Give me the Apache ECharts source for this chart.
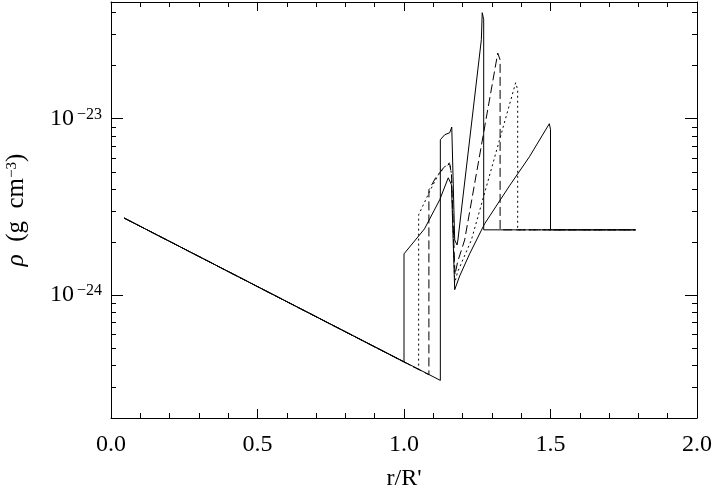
<!DOCTYPE html>
<html>
<head>
<meta charset="utf-8">
<script src="https://cdn.jsdelivr.net/npm/echarts@6/dist/echarts.min.js"></script>
<style>
html, body { margin: 0; padding: 0; background: #fff; }
#chart { width: 714px; height: 486px; }
</style>
</head>
<body>
<div id="chart"></div>
<script>
// density profiles rho(r)
// solid, inner jump at r = 1.00
const rA = [0.045, 1.000, 1.000, 1.070, 1.122, 1.151, 1.157, 1.162, 1.173, 1.190, 1.224, 1.275, 1.360, 1.428, 1.496, 1.500, 1.500, 1.790];
const rhoA = [2.73e-24, 4.16e-25, 1.71e-24, 2.37e-24, 3.47e-24, 4.62e-24, 4.71e-24, 4.22e-24, 1.07e-24, 1.28e-24, 1.71e-24, 2.53e-24, 4.16e-24, 6.08e-24, 9.37e-24, 8.7e-24, 2.34e-24, 2.34e-24];
// dotted, inner jump at r = 1.05
const rB = [0.045, 1.050, 1.050, 1.087, 1.115, 1.142, 1.156, 1.162, 1.173, 1.183, 1.230, 1.381, 1.388, 1.388, 1.790];
const rhoB = [2.73e-24, 3.77e-25, 2.85e-24, 3.85e-24, 4.74e-24, 5.41e-24, 5.62e-24, 4.81e-24, 1.17e-24, 1.35e-24, 2.05e-24, 1.60e-23, 1.46e-23, 2.34e-24, 2.34e-24];
// dashed, inner jump at r = 1.085
const rC = [0.045, 1.085, 1.085, 1.108, 1.135, 1.156, 1.162, 1.174, 1.183, 1.207, 1.320, 1.328, 1.328, 1.790];
const rhoC = [2.73e-24, 3.52e-25, 3.95e-24, 4.62e-24, 5.27e-24, 5.55e-24, 4.81e-24, 1.30e-24, 1.54e-24, 2.05e-24, 2.36e-23, 2.16e-23, 2.34e-24, 2.34e-24];
// solid, inner jump at r = 1.124
const rD = [0.045, 1.124, 1.124, 1.139, 1.156, 1.163, 1.167, 1.173, 1.181, 1.184, 1.264, 1.267, 1.272, 1.272, 1.790];
const rhoD = [2.73e-24, 3.27e-25, 7.60e-24, 8.11e-24, 8.33e-24, 8.97e-24, 8.89e-24, 2.05e-24, 1.92e-24, 2.05e-24, 2.81e-23, 4.00e-23, 3.65e-23, 2.34e-24, 2.34e-24];

// axis ranges and tick values
const xMajor = [0, 0.5, 1, 1.5, 2];
const xMinor = [0.1, 0.2, 0.3, 0.4, 0.6, 0.7, 0.8, 0.9, 1.1, 1.2, 1.3, 1.4, 1.6, 1.7, 1.8, 1.9];
const yMin = 2e-25;
const yMax = 4.6e-23;
const yMajor = [1e-24, 1e-23];
const yMinor = [2e-25, 3e-25, 4e-25, 5e-25, 6e-25, 7e-25, 8e-25, 9e-25,
  2e-24, 3e-24, 4e-24, 5e-24, 6e-24, 7e-24, 8e-24, 9e-24, 2e-23, 3e-23, 4e-23];

const font = "Liberation Serif";
const black = "#000";

function pairs(xs, ys) {
  return xs.map((x, i) => [x, ys[i]]);
}

// grid 0 is the plot; grid 1 is a strip whose bottom edge is the top frame,
// its ticks point down into the plot (top-positioned axes drew no ticks)
function xAxis(grid, major, labels) {
  return {
    type: "value",
    gridIndex: grid,
    position: "bottom",
    min: 0,
    max: 2,
    interval: 0.5,
    axisLine: { show: major, onZero: false, lineStyle: { color: black, width: 1 } },
    axisTick: {
      show: true,
      inside: grid === 0,
      length: major ? 9 : 5,
      customValues: major ? xMajor : xMinor,
      lineStyle: { color: black },
    },
    splitLine: { show: false },
    axisLabel: {
      show: labels,
      customValues: xMajor,
      margin: 15,
      color: black,
      fontFamily: font,
      fontSize: 24,
      formatter: (v) => v.toFixed(1),
    },
    name: labels ? "r/R'" : "",
    nameLocation: "middle",
    nameGap: 49,
    nameTextStyle: { color: black, fontFamily: font, fontSize: 24 },
  };
}

// tick-only axes: same range as the log axis, counted in decades
function tickAxis(position, major) {
  let left = position === "left";
  return {
    type: "value",
    position: position,
    min: Math.log10(yMin),
    max: Math.log10(yMax),
    axisLine: { show: false, onZero: false },
    axisTick: {
      show: true,
      inside: true,
      length: major ? 12 : 5,
      customValues: (major ? yMajor : yMinor).map((v) => Math.log10(v)),
      lineStyle: { color: black },
    },
    splitLine: { show: false },
    axisLabel: {
      show: major && left,
      customValues: yMajor.map((v) => Math.log10(v)),
      margin: 9,
      color: black,
      fontFamily: font,
      fontSize: 24,
      formatter: (v) => "{b|10}{s|\u2212" + -Math.round(v) + "}",
      rich: {
        b: { fontFamily: font, fontSize: 24, color: black },
        s: { fontFamily: font, fontSize: 16, color: black, padding: [0, 0, 8, 3] },
      },
    },
  };
}

function line(xs, ys, type) {
  return {
    type: "line",
    data: pairs(xs, ys),
    xAxisIndex: 0,
    yAxisIndex: 0,
    symbol: "none",
    animation: false,
    lineStyle: { color: black, width: 1, type: type },
  };
}

function initChart() {
  let myChart = echarts.init(document.getElementById("chart"), null, { renderer: "canvas" });
  let option = {
    backgroundColor: "#fff",
    animation: false,
    grid: [
      { left: 111, right: 17, top: 2, bottom: 68, outerBoundsMode: "none", containLabel: false },
      { left: 111, right: 17, top: -50, bottom: 484, outerBoundsMode: "none", containLabel: false },
    ],
    xAxis: [
      xAxis(0, true, true),
      xAxis(0, false, false),
      xAxis(1, true, false),
      xAxis(1, false, false),
    ],
    yAxis: [
      {
        type: "log",
        logBase: 10,
        position: "left",
        min: yMin,
        max: yMax,
        axisLine: { show: true, onZero: false, lineStyle: { color: black, width: 1 } },
        axisTick: { show: false },
        axisLabel: { show: false },
        splitLine: { show: false },
        name: "{i|\u03c1}  (g  cm{s|\u22123})",
        nameLocation: "middle",
        nameGap: 82,
        nameTextStyle: {
          color: black,
          fontFamily: font,
          fontSize: 25,
          rich: {
            i: { fontFamily: font, fontSize: 25, fontStyle: "italic", color: black },
            s: { fontFamily: font, fontSize: 15, color: black, padding: [0, 0, 9, 0] },
          },
        },
      },
      {
        type: "log",
        logBase: 10,
        position: "right",
        min: yMin,
        max: yMax,
        axisLine: { show: true, onZero: false, lineStyle: { color: black, width: 1 } },
        axisTick: { show: false },
        axisLabel: { show: false },
        splitLine: { show: false },
      },
      tickAxis("left", true),
      tickAxis("left", false),
      tickAxis("right", true),
      tickAxis("right", false),
      { type: "value", gridIndex: 1, min: 0, max: 1, show: false },
    ],
    series: [
      line(rB, rhoB, [2, 3]),
      line(rC, rhoC, [9, 4]),
      line(rA, rhoA, "solid"),
      line(rD, rhoD, "solid"),
    ],
  };
  myChart.setOption(option);
}

initChart();
</script>
</body>
</html>
